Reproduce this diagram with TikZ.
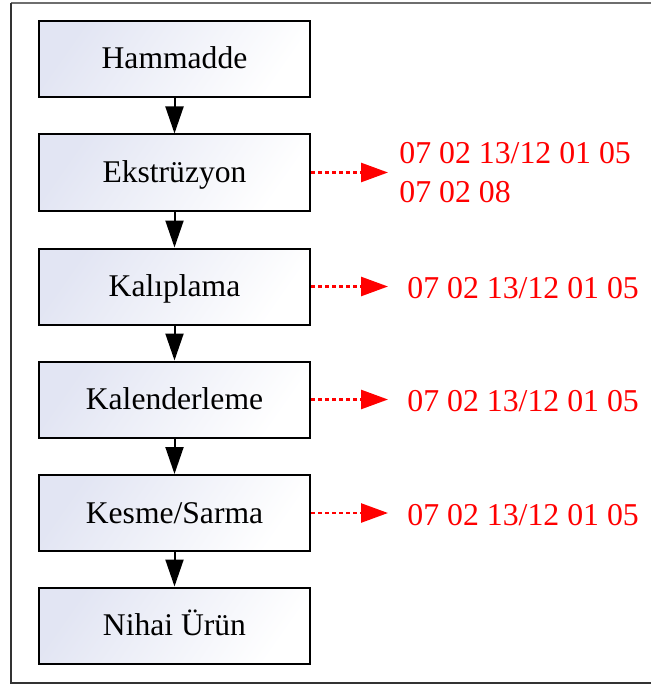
\documentclass[tikz,border=0pt]{standalone}
\usepackage{fontspec}
\setmainfont{Liberation Serif}
\usetikzlibrary{arrows.meta}
\definecolor{boxblue}{RGB}{226,229,243}
\definecolor{framegray}{RGB}{110,110,110}
\pgfdeclarehorizontalshading{boxshade}{100bp}{color(0bp)=(boxblue); color(25bp)=(boxblue); color(75bp)=(white); color(100bp)=(white)}
\tikzset{
  stepbox/.style={draw=black, line width=1pt, shading=boxshade, shading angle=-35,
    minimum width=135.5pt, minimum height=38pt, inner sep=0pt, text height=11pt, text depth=1pt,
    font=\fontsize{15.8}{19}\selectfont},
  flow/.style={line width=1pt, -{Triangle[length=13.5pt,width=9pt]}},
  waste/.style={red, line width=1.3pt, dash pattern=on 2pt off 1.5pt, -{Triangle[length=13.5pt,width=9.5pt]}},
  code/.style={red, anchor=west, inner sep=0pt, align=left, font=\fontsize{15.9}{19.2}\selectfont}
}
\begin{document}
\begin{tikzpicture}[x=0.5pt,y=-0.5pt]
\useasboundingbox (0,0) rectangle (651,684);
\draw[framegray, line width=0.6pt] (11,3) -- (660,3);
\draw[black!80, line width=0.6pt] (11,3) -- (11,683) -- (660,683);
\node[stepbox] (n1) at (174.5,59) {Hammadde};
\node[stepbox] (n2) at (174.5,172.5) {Ekstrüzyon};
\node[stepbox] (n3) at (174.5,286.5) {Kalıplama};
\node[stepbox] (n4) at (174.5,399.5) {Kalenderleme};
\node[stepbox] (n5) at (174.5,513) {Kesme/Sarma};
\node[stepbox] (n6) at (174.5,625.5) {Nihai Ürün};
\draw[flow] (n1) -- (n2);
\draw[flow] (n2) -- (n3);
\draw[flow] (n3) -- (n4);
\draw[flow] (n4) -- (n5);
\draw[flow] (n5) -- (n6);
\coordinate (e2) at (388,172.5);
\coordinate (e3) at (388,286.5);
\coordinate (e4) at (388,399.5);
\coordinate (e5) at (388,513);
\draw[waste] (n2.east) -- (e2);
\draw[waste] (n3.east) -- (e3);
\draw[waste] (n4.east) -- (e4);
\draw[waste] (n5.east) -- (e5);
\node[code] (c2) at (399,172.5) {07 02 13/12 01 05\\07 02 08};
\node[code] (c3) at (407,288) {07 02 13/12 01 05};
\node[code] (c4) at (407,401.5) {07 02 13/12 01 05};
\node[code] (c5) at (407,515) {07 02 13/12 01 05};
\end{tikzpicture}
\end{document}
